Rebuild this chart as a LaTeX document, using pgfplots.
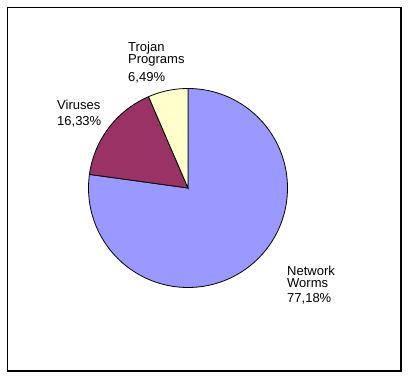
\documentclass[border=0pt]{standalone}
\usepackage{fontspec}
\setmainfont{Liberation Sans}
\usepackage{pgfplots}
\pgfplotsset{compat=1.18}
\definecolor{worms}{HTML}{9999FF}
\definecolor{viruses}{HTML}{993366}
\definecolor{trojan}{HTML}{FFFFCC}
% shares in percent
\def\pWorms{77.18}
\def\pViruses{16.33}
\def\pTrojan{6.49}
\begin{document}
\begin{tikzpicture}
\pgfmathsetmacro\aA{90}
\pgfmathsetmacro\aB{90-3.6*\pWorms}
\pgfmathsetmacro\aC{\aB-3.6*\pViruses}
\pgfmathsetmacro\aD{\aC-3.6*\pTrojan}
\begin{axis}[
  scale only axis, width=409pt, height=379pt,
  xmin=0, xmax=409, ymin=0, ymax=379,
  hide axis, clip=false,
  font=\fontsize{13}{15}\selectfont,
]
\path (axis cs:0,0) rectangle (axis cs:409,379);
\draw[line width=1.1pt] (axis cs:7.5,8) rectangle (axis cs:401,371.7);
\addplot[fill=worms, draw=black, line width=0.8pt, domain=\aA:\aB, samples=160, variable=\t]
  ({188+99.5*cos(t)}, {191+99.5*sin(t)}) -- (axis cs:188,191) -- cycle;
\addplot[fill=viruses, draw=black, line width=0.8pt, domain=\aB:\aC, samples=50, variable=\t]
  ({188+99.5*cos(t)}, {191+99.5*sin(t)}) -- (axis cs:188,191) -- cycle;
\addplot[fill=trojan, draw=black, line width=0.8pt, domain=\aC:\aD, samples=30, variable=\t]
  ({188+99.5*cos(t)}, {191+99.5*sin(t)}) -- (axis cs:188,191) -- cycle;
\node[anchor=base west, inner sep=0pt] at (axis cs:128,327.5) {Trojan};
\node[anchor=base west, inner sep=0pt] at (axis cs:128,315) {Programs};
\node[anchor=base west, inner sep=0pt] at (axis cs:128,297) {6,49\%};
\node[anchor=base west, inner sep=0pt] at (axis cs:57,269) {Viruses};
\node[anchor=base west, inner sep=0pt] at (axis cs:57,253) {16,33\%};
\node[anchor=base west, inner sep=0pt] at (axis cs:287,103) {Network};
\node[anchor=base west, inner sep=0pt] at (axis cs:287,91) {Worms};
\node[anchor=base west, inner sep=0pt] at (axis cs:287,76.5) {77,18\%};
\end{axis}
\end{tikzpicture}
\end{document}
